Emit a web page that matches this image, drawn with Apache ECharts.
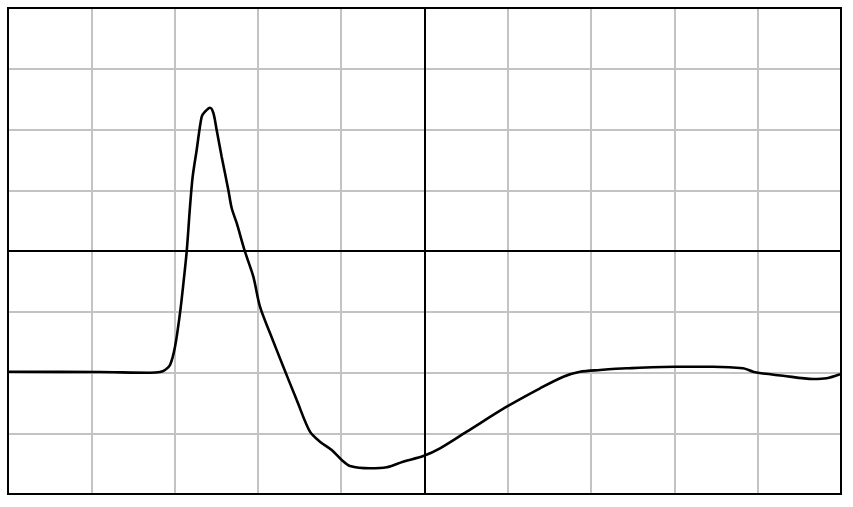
<!DOCTYPE html>
<html>
<head>
<meta charset="utf-8">
<script src="https://cdn.jsdelivr.net/npm/echarts@6/dist/echarts.min.js"></script>
<style>html,body{margin:0;padding:0;background:#fff;}#c{width:853px;height:507px;}</style>
</head>
<body>
<div id="c"></div>
<script>
var xs = [0,1.104,1.705,1.825,1.885,1.945,2.005,2.065,2.101,2.145,2.185,2.217,2.265,2.325,2.365,2.425,2.465,2.505,2.565,2.645,2.685,2.745,2.845,2.945,3.025,3.145,3.305,3.466,3.625,3.745,3.886,4.006,4.106,4.346,4.546,4.742,4.986,5.186,5.507,5.987,6.387,6.667,6.867,7.107,7.427,8.007,8.463,8.824,8.944,9.004,9.304,9.664,9.828,9.988];
var ys = [-1.987,-1.992,-2.003,-1.992,-1.959,-1.877,-1.575,-1.021,-0.593,-0.012,0.729,1.223,1.663,2.211,2.293,2.359,2.272,1.992,1.552,1.004,0.708,0.461,-0.012,-0.423,-0.917,-1.350,-1.905,-2.453,-2.975,-3.139,-3.276,-3.440,-3.539,-3.577,-3.560,-3.468,-3.374,-3.248,-2.974,-2.563,-2.260,-2.069,-1.987,-1.959,-1.931,-1.905,-1.905,-1.931,-1.987,-2.003,-2.053,-2.107,-2.095,-2.030];
var centerX = 5, centerY = 0;
var pts = xs.map(function(x,i){return [x, ys[i]];});
var chart = echarts.init(document.getElementById('c'));
chart.setOption({
  animation: false,
  grid: {left: 8, top: 8, right: 12, bottom: 13, show: true, borderColor: '#000', borderWidth: 2, backgroundColor: 'transparent', z: 3},
  xAxis: {type: 'value', min: 0, max: 10, interval: 1, axisLine: {show: false}, axisTick: {show: false}, axisLabel: {show: false},
    splitLine: {show: true, lineStyle: {color: '#c3c3c3', width: 2}}},
  yAxis: {type: 'value', min: -4, max: 4, interval: 1, axisLine: {show: false}, axisTick: {show: false}, axisLabel: {show: false},
    splitLine: {show: true, lineStyle: {color: '#c3c3c3', width: 2}}},
  series: [{
    type: 'line', data: pts, smooth: 0.3, symbol: 'none',
    lineStyle: {color: '#000', width: 2.6},
    markLine: {silent: true, symbol: 'none', label: {show: false},
      lineStyle: {color: '#000', width: 2, type: 'solid'},
      data: [{xAxis: centerX}, {yAxis: centerY}]}
  }]
});
</script>
</body>
</html>
